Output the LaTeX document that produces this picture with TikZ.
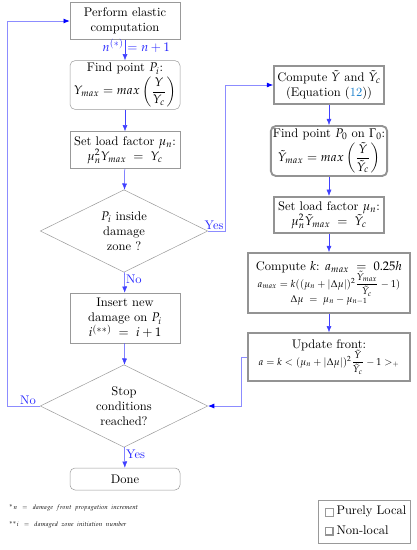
\documentclass[tikz,border=0pt]{standalone}
\usepackage{mathpazo}
\usepackage{amsmath}
\usetikzlibrary{shapes.geometric,arrows.meta}

\begin{document}
\begin{tikzpicture}[x=0.8pt,y=-0.8pt,
	lbox/.style={draw=gray!80,thin,align=center,minimum width=88pt,inner sep=1pt},
	rbox/.style={draw=gray!85,line width=1.5pt,align=center,inner sep=1pt},
	dec/.style={diamond,draw=gray!80,thin,aspect=2,align=center,inner sep=0pt,minimum width=134pt,minimum height=66pt},
	flow/.style={-{Latex[length=5pt,width=4pt]},blue!75},
	back/.style={-{Latex[length=5pt,width=4pt,blue]},blue!45,semithick},
	lab/.style={text=blue!85,inner sep=1pt}]
	\useasboundingbox (0,0) rectangle (416,550);
	% left column
	\node[lbox,minimum height=29.6pt] (elastic) at (125,21) {Perform elastic\\computation};
	\node[lbox,rounded corners=4pt,minimum height=39pt] (findP) at (125,85) {Find point $P_i$:\\[1pt]$Y_{max} = max\left(\dfrac{Y}{Y_c}\right)$};
	\node[lbox,minimum height=29.6pt] (setmu) at (125,150) {Set load factor $\mu_n$:\\$\mu_n^2 Y_{max} \;=\; Y_c$};
	\node[dec] (inside) at (124,231) {$P_i$ inside\\damage\\zone ?};
	\node[lbox,minimum height=40pt] (insert) at (125,318) {Insert new\\damage on $P_i$\\$i^{(**)} \;=\; i+1$};
	\node[dec] (stop) at (124,406) {Stop\\conditions\\reached?};
	\node[lbox,rounded corners=4pt,minimum height=17.6pt] (done) at (125,479) {Done};
	% right column
	\node[rbox,minimum width=88pt,minimum height=31pt] (tilde) at (329,85) {Compute $\tilde{Y}$ and $\tilde{Y}_c$\\(Equation ({\color{cyan!60!blue}12}))};
	\node[rbox,rounded corners=4pt,minimum width=93pt,minimum height=40pt] (findP0) at (329,151) {Find point $P_0$ on $\Gamma_0$:\\[1pt]$\tilde{Y}_{max} = max\left(\dfrac{\tilde{Y}}{\tilde{Y}_c}\right)$};
	\node[rbox,minimum width=88pt,minimum height=29pt] (setmu0) at (329,215) {Set load factor $\mu_n$:\\$\mu_n^2 \tilde{Y}_{max} \;=\; \tilde{Y}_c$};
	\node[rbox,minimum width=129.6pt,minimum height=48pt] (compk) at (329,283) {Compute $k$: $a_{max} \;=\; 0.25h$\\[-2pt]{\footnotesize $a_{max} = k((\mu_n+|\Delta\mu|)^2\dfrac{\tilde{Y}_{max}}{\tilde{Y}_c}-1)$}\\[-2pt]{\footnotesize $\Delta\mu \;=\; \mu_n-\mu_{n-1}$}};
	\node[rbox,minimum width=129.6pt,minimum height=38pt] (front) at (329,357) {Update front:\\[-2pt]{\footnotesize $a = k < (\mu_n+|\Delta\mu|)^2\dfrac{\tilde{Y}}{\tilde{Y}_c}-1 >_+$}};
	% connectors
	\draw[flow] (elastic) -- node[lab,pos=0.3,xshift=9pt] {$n^{(*)} = n+1$} (findP);
	\draw[flow] (findP) -- (setmu);
	\draw[flow] (setmu) -- (inside);
	\draw[flow] (inside) -- node[lab,pos=0.35,right] {No} (insert);
	\draw[flow] (insert) -- (stop);
	\draw[flow] (stop) -- node[lab,pos=0.35,right] {Yes} (done);
	\coordinate (yescorner) at (225,231);
	\draw[back] (inside.east) -- (yescorner) |- (tilde.west);
	\node[lab,above left] (yes) at (yescorner) {Yes};
	\draw[flow] (tilde) -- (findP0);
	\draw[flow] (findP0) -- (setmu0);
	\draw[flow] (setmu0) -- (compk);
	\draw[flow] (compk) -- (front);
	\coordinate (frontbend) at (241,357);
	\draw[back] (front.west) -- (frontbend) |- (stop.east);
	\coordinate (nocorner) at (7,406);
	\draw[back] (stop.west) -- (nocorner) |- (elastic.west);
	\node[lab,anchor=south] (no) at (28,406) {No};
	% notes
	\node[anchor=west,font=\tiny] (note1) at (5,508) {$^{*}n\;\;=\;\;damage\;\;front\;\;propagation\;\;increment$};
	\node[anchor=west,font=\tiny] (note2) at (5,525) {$^{**}i\;\;=\;\;damaged\;\;zone\;\;initiation\;\;number$};
	% legend
	\node[draw=gray!80,thin,minimum width=73.6pt,minimum height=34.4pt] (legend) at (364,521.5) {};
	\node[draw=gray!80,thin,minimum size=6pt,inner sep=0pt] (local) at (329,512) {};
	\node[anchor=west,inner sep=1pt] (localtxt) at (335,511) {Purely Local};
	\node[draw=gray!85,line width=1.2pt,minimum size=6pt,inner sep=0pt] (nonlocal) at (329,531) {};
	\node[anchor=west,inner sep=1pt] (nonlocaltxt) at (335,530) {Non-local};
\end{tikzpicture}
\end{document}
